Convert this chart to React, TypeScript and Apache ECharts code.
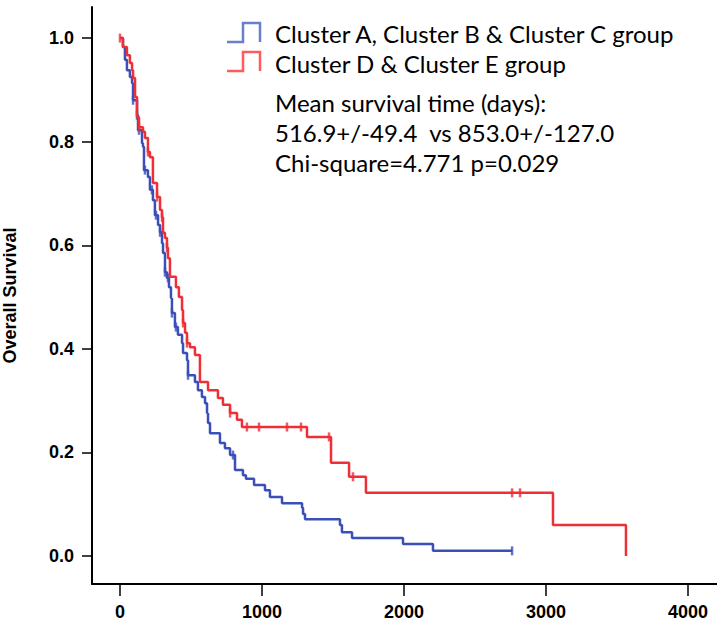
import React, { useEffect, useRef } from 'react';
import * as echarts from 'echarts';

// Kaplan-Meier steps: [time (days), survival]
const groupABCSteps: [number, number][] = [
  [0, 1.0], [21, 0.983], [35, 0.958], [49, 0.938], [70, 0.925], [85, 0.913], [92, 0.88],
  [120, 0.851], [127, 0.822], [155, 0.797], [162, 0.79], [169, 0.745], [197, 0.732],
  [211, 0.707], [232, 0.687], [246, 0.658], [268, 0.639], [282, 0.625], [296, 0.604],
  [303, 0.585], [317, 0.548], [331, 0.537], [345, 0.519], [359, 0.498], [366, 0.469],
  [387, 0.442], [408, 0.427], [437, 0.411], [444, 0.392], [472, 0.378], [479, 0.349],
  [528, 0.336], [549, 0.32], [577, 0.307], [599, 0.295], [613, 0.276], [620, 0.257],
  [634, 0.237], [704, 0.218], [739, 0.208], [775, 0.195], [810, 0.166], [866, 0.156],
  [887, 0.149], [944, 0.137], [1021, 0.127], [1056, 0.114], [1141, 0.102], [1282, 0.093],
  [1289, 0.081], [1303, 0.071], [1549, 0.06], [1563, 0.046], [1634, 0.035], [1993, 0.023],
  [2204, 0.01], [2761, 0.01],
];
const groupDESteps: [number, number][] = [
  [0, 1.0], [21, 0.983], [49, 0.967], [70, 0.952], [85, 0.938], [92, 0.923], [106, 0.886],
  [120, 0.847], [134, 0.828], [162, 0.819], [176, 0.807], [197, 0.78], [211, 0.77],
  [232, 0.72], [261, 0.693], [282, 0.668], [296, 0.654], [303, 0.624], [317, 0.614],
  [331, 0.595], [338, 0.575], [352, 0.539], [394, 0.519], [415, 0.5], [437, 0.475],
  [444, 0.45], [458, 0.431], [472, 0.411], [493, 0.403], [528, 0.388], [563, 0.336],
  [620, 0.32], [690, 0.305], [725, 0.292], [775, 0.276], [824, 0.263], [859, 0.249],
  [1317, 0.23], [1486, 0.18], [1613, 0.153], [1732, 0.122], [3049, 0.06], [3563, 0],
];
const groupABCCensored: number[] = [92, 120, 134, 176, 225, 254, 282, 317, 338, 366, 394, 479, 796, 2761];
const groupDECensored: number[] = [0, 134, 197, 261, 296, 331, 444, 472, 775, 894, 979, 1176, 1275, 1472, 1641, 2761, 2817];

const xTicks = [0, 1000, 2000, 3000, 4000];
const yTicks = [0, 0.2, 0.4, 0.6, 0.8, 1.0];

const legendNames = ['Cluster A, Cluster B & Cluster C group', 'Cluster D & Cluster E group'];
const statLines = [
  'Mean survival time (days):',
  '516.9+/-49.4  vs 853.0+/-127.0',
  'Chi-square=4.771 p=0.029',
];

const BLUE = '#3a4fb8';
const RED = '#ee2f36';

function levelAt(steps: [number, number][], t: number): number {
  let s = steps[0][1];
  for (const [tt, ss] of steps) {
    if (tt <= t) s = ss;
    else break;
  }
  return s;
}

export default function App() {
  const ref = useRef<HTMLDivElement>(null);
  useEffect(() => {
    document.body.style.margin = '0';
    const chart = echarts.init(ref.current!, null, { renderer: 'svg' });
    const axisFont = { fontFamily: 'Liberation Sans', fontWeight: 'bold' as const, fontSize: 18, color: '#000' };
    chart.setOption({
      animation: false,
      grid: { left: 92, right: 0, top: 7, bottom: 47, containLabel: false, outerBoundsMode: 'none' },
      xAxis: {
        type: 'value',
        min: -197,
        max: 4204,
        splitLine: { show: false },
        axisLine: { show: true, onZero: false, lineStyle: { color: '#000', width: 2 } },
        axisTick: { show: true, customValues: xTicks, length: 12, lineStyle: { color: '#000', width: 1.5 } },
        axisLabel: { customValues: xTicks, margin: 19, formatter: (v: number) => String(v), ...axisFont },
      },
      yAxis: {
        type: 'value',
        min: -0.054,
        max: 1.06,
        splitLine: { show: false },
        axisLine: { show: true, onZero: false, lineStyle: { color: '#000', width: 2 } },
        axisTick: { show: true, customValues: yTicks, length: 10, lineStyle: { color: '#000', width: 1.5 } },
        axisLabel: { customValues: yTicks, margin: 18, formatter: (v: number) => v.toFixed(1), ...axisFont },
        name: 'Overall Survival',
        nameLocation: 'middle',
        nameRotate: 90,
        nameGap: 73,
        nameTextStyle: { fontFamily: 'Liberation Sans', fontWeight: 'bold', fontSize: 18, color: '#000' },
      },
      series: [
        {
          name: legendNames[0],
          type: 'line',
          step: 'end',
          data: groupABCSteps,
          showSymbol: false,
          lineStyle: { color: BLUE, width: 2.5 },
          z: 2,
        },
        {
          type: 'scatter',
          data: groupABCCensored.map((t) => [t, levelAt(groupABCSteps, t)]),
          symbol: 'rect',
          symbolSize: [2.5, 9],
          itemStyle: { color: BLUE },
          z: 2,
        },
        {
          name: legendNames[1],
          type: 'line',
          step: 'end',
          data: groupDESteps,
          showSymbol: false,
          lineStyle: { color: RED, width: 2.5 },
          z: 3,
        },
        {
          type: 'scatter',
          data: groupDECensored.map((t) => [t, levelAt(groupDESteps, t)]),
          symbol: 'rect',
          symbolSize: [2.5, 9],
          itemStyle: { color: RED },
          z: 3,
        },
      ],
      graphic: [
        {
          type: 'polyline',
          shape: { points: [[227, 42], [243, 42], [243, 23], [260, 23], [260, 42]] },
          style: { stroke: '#6a7fcc', lineWidth: 2.5, fill: null },
        },
        {
          type: 'polyline',
          shape: { points: [[227, 71], [243, 71], [243, 52], [260, 52], [260, 71]] },
          style: { stroke: '#ff5a5e', lineWidth: 2.5, fill: null },
        },
        ...[legendNames[0], legendNames[1], ...statLines].map((txt, i) => ({
          type: 'text',
          x: 275,
          y: [33, 63, 102, 132, 162][i],
          style: {
            text: txt,
            fill: '#000',
            fontFamily: 'Lato',
            fontSize: 24,
            verticalAlign: 'middle',
            align: 'left',
          },
        })),
      ],
    });
    return () => chart.dispose();
  }, []);
  return <div ref={ref} style={{ width: 717, height: 631 }} />;
}
